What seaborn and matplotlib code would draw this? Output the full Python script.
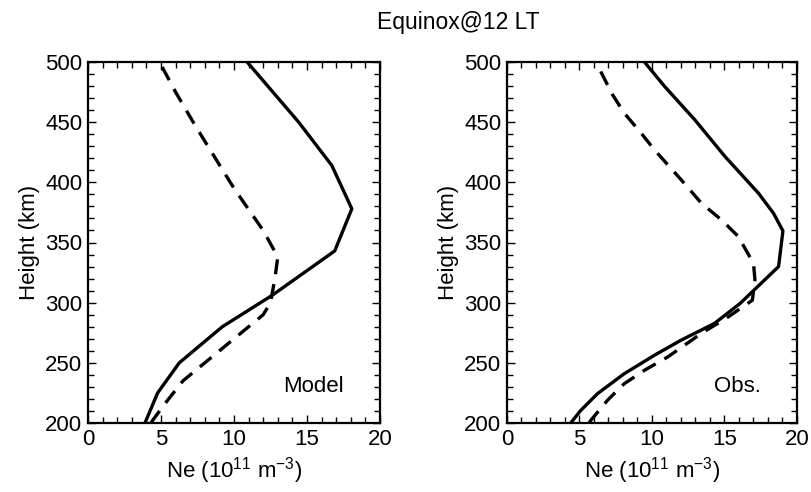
import matplotlib
matplotlib.use("Agg")
import matplotlib.pyplot as plt
import seaborn as sns
import pandas as pd
from matplotlib.ticker import MultipleLocator

# ---- data ----
model_solid_ne = [3.9, 4.77, 6.25, 9.2, 12.6, 16.9, 18.07, 16.7, 14.43, 10.9]
model_solid_h  = [200, 225, 250, 280, 306, 343, 378, 414, 450, 500]

model_dash_ne = [4.3, 5.2, 6.5, 8.5, 10.5, 12.0, 12.5, 12.8, 13.0, 12.0, 10.0, 7.4, 6.0, 4.9]
model_dash_h  = [200, 215, 235, 255, 275, 290, 300, 320, 338, 360, 395, 446, 475, 500]

obs_solid_ne = [4.39, 5.09, 6.24, 8.09, 10.17, 12.0, 14.3, 16.07, 18.73, 19.03, 18.38, 17.34, 15.03, 12.95, 10.87, 9.48]
obs_solid_h  = [200, 210.5, 224.4, 241, 256.3, 268.8, 282.7, 299.3, 330, 359.6, 374.3, 391, 421.5, 452, 479.7, 500]

obs_dash_ne = [5.66, 5.78, 6.94, 8.09, 9.48, 11.1, 13.4, 15.26, 16.92, 17.1, 17.0, 15.95, 14.8, 13.41, 12.02, 10.17, 9.25, 8.09, 7.28, 6.13]
obs_dash_h  = [200, 202.2, 219, 232.7, 243.8, 255, 274.4, 288.2, 302, 318.8, 332.6, 355, 368.7, 382.6, 402, 427, 440.9, 457.5, 472.8, 500]

panel_labels = ["Model", "Obs."]
title = "Equinox@12 LT"
xlabel = r"Ne (10$^{11}$ m$^{-3}$)"
ylabel = "Height (km)"
xticks = [0, 5, 10, 15, 20]
yticks = [200, 250, 300, 350, 400, 450, 500]

sns.set_style("ticks")
plt.rcParams["font.family"] = ["Liberation Sans", "DejaVu Sans"]
plt.rcParams["mathtext.fontset"] = "custom"
plt.rcParams["mathtext.rm"] = "Liberation Sans"
plt.rcParams["mathtext.it"] = "Liberation Sans"
plt.rcParams["text.color"] = "black"
plt.rcParams["axes.labelcolor"] = "black"

FS = 16

fig = plt.figure(figsize=(8.12, 4.92), dpi=100)
ax1 = fig.add_axes([88/812, 69/492, 292/812, 361/492])
ax2 = fig.add_axes([507/812, 69/492, 290/812, 361/492])

panels = [
    (ax1, model_solid_ne, model_solid_h, model_dash_ne, model_dash_h, panel_labels[0]),
    (ax2, obs_solid_ne, obs_solid_h, obs_dash_ne, obs_dash_h, panel_labels[1]),
]

for ax, sx, sy, dx, dy, lab in panels:
    df_s = pd.DataFrame({"ne": sx, "h": sy})
    df_d = pd.DataFrame({"ne": dx, "h": dy})
    sns.lineplot(data=df_s, x="ne", y="h", sort=False, estimator=None, ax=ax,
                 color="black", lw=2.4)
    sns.lineplot(data=df_d, x="ne", y="h", sort=False, estimator=None, ax=ax,
                 color="black", lw=2.4, linestyle=(0, (4.5, 3)))
    ax.set_xlim(0, 20)
    ax.set_ylim(200, 500)
    ax.set_xticks(xticks)
    ax.set_yticks(yticks)
    ax.xaxis.set_minor_locator(MultipleLocator(1))
    ax.yaxis.set_minor_locator(MultipleLocator(10))
    ax.tick_params(which="both", direction="in", top=True, right=True,
                   labelsize=FS, width=1.0, colors="black", pad=4)
    ax.tick_params(which="major", length=6)
    ax.tick_params(which="minor", length=4)
    for sp in ax.spines.values():
        sp.set_visible(True)
        sp.set_linewidth(1.6)
        sp.set_color("black")
    ax.set_xlabel(xlabel, fontsize=FS, labelpad=4)
    ax.set_ylabel(ylabel, fontsize=FS, labelpad=4)
    ax.text(0.875, 0.10, lab, transform=ax.transAxes, ha="right", va="center",
            fontsize=FS)

fig.text(458/812, 1 - 22/492, title, ha="center", va="center", fontsize=16.5)

fig.savefig("out.png", dpi=100)
